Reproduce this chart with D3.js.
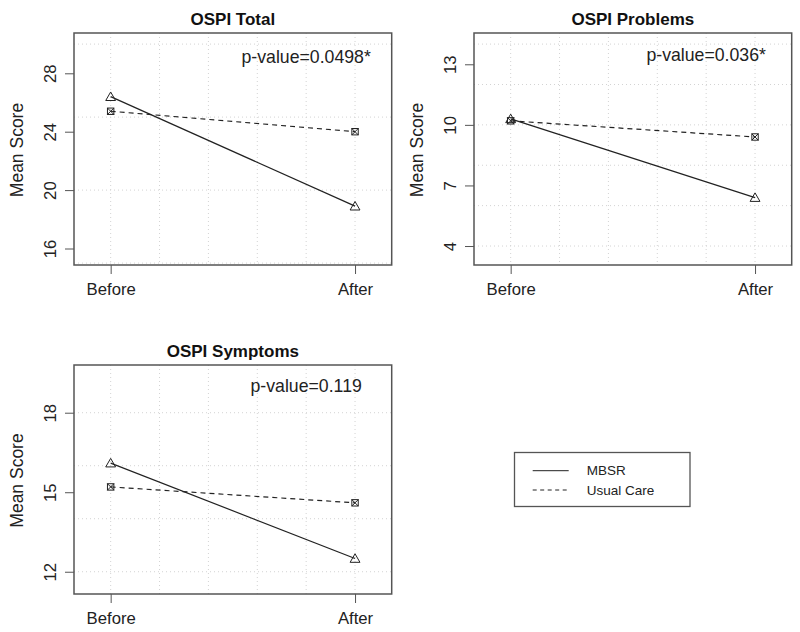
<!DOCTYPE html>
<html>
<head>
<meta charset="utf-8">
<script src="https://cdn.jsdelivr.net/npm/d3@7"></script>
<style>
  html, body { margin: 0; padding: 0; background: #fff; }
  svg { display: block; font-family: "Liberation Sans", Arial, sans-serif; }
</style>
</head>
<body>
<svg id="chart" width="800" height="632"></svg>
<script>
// ---- data ----
const timepoints = ["Before", "After"];
const seriesNames = ["MBSR", "Usual Care"];
const panelTitles = ["OSPI Total", "OSPI Problems", "OSPI Symptoms"];
const pValueLabels = ["p-value=0.0498*", "p-value=0.036*", "p-value=0.119"];

const totalMBSR = [26.4, 18.9];
const totalUsual = [25.4, 24.0];
const problemsMBSR = [10.3, 6.4];
const problemsUsual = [10.2, 9.4];
const symptomsMBSR = [16.1, 12.5];
const symptomsUsual = [15.2, 14.6];

const totalTicks = [16, 20, 24, 28];
const problemsTicks = [4, 7, 10, 13];
const symptomsTicks = [12, 15, 18];

const totalGrid = [15, 20, 25, 30];
const problemsGrid = [4, 6, 8, 10, 12, 14];
const symptomsGrid = [12, 14, 16, 18];

const xGrid = [1, 1.2, 1.4, 1.6, 1.8, 2];

// ---- layout ----
const panels = [
  { title: panelTitles[0], p: pValueLabels[0], mbsr: totalMBSR, usual: totalUsual,
    ticks: totalTicks, grid: totalGrid, domain: [14.87, 30.76], pY: 29.1,
    left: 74, right: 391.7, top: 33, bottom: 265 },
  { title: panelTitles[1], p: pValueLabels[1], mbsr: problemsMBSR, usual: problemsUsual,
    ticks: problemsTicks, grid: problemsGrid, domain: [3.06, 14.55], pY: 13.46,
    left: 474, right: 791.7, top: 33, bottom: 265 },
  { title: panelTitles[2], p: pValueLabels[2], mbsr: symptomsMBSR, usual: symptomsUsual,
    ticks: symptomsTicks, grid: symptomsGrid, domain: [11.16, 19.8], pY: 19.02,
    left: 74, right: 391.7, top: 365, bottom: 594 }
];

const svg = d3.select("#chart");
const boxColor = "#555";
const lineColor = "#222";
const gridColor = "#d3d3d3";

panels.forEach(pn => {
  const x = d3.scaleLinear().domain([0.85, 2.15]).range([pn.left, pn.right]);
  const y = d3.scaleLinear().domain(pn.domain).range([pn.bottom, pn.top]);
  const g = svg.append("g");

  // grid
  g.selectAll("line.vg").data(xGrid).enter().append("line")
    .attr("x1", d => x(d)).attr("x2", d => x(d))
    .attr("y1", pn.top).attr("y2", pn.bottom)
    .attr("stroke", gridColor).attr("stroke-dasharray", "1,3").attr("stroke-width", 1);
  g.selectAll("line.hg").data(pn.grid.filter(v => y(v) > pn.top && y(v) < pn.bottom)).enter().append("line")
    .attr("x1", pn.left).attr("x2", pn.right)
    .attr("y1", d => y(d)).attr("y2", d => y(d))
    .attr("stroke", gridColor).attr("stroke-dasharray", "1,3").attr("stroke-width", 1);

  // y axis
  const yAxis = d3.axisLeft(y).tickValues(pn.ticks).tickSize(9);
  const ya = g.append("g").attr("transform", `translate(${pn.left},0)`).call(yAxis);
  ya.select(".domain").remove();
  ya.selectAll(".tick line").attr("stroke", boxColor);
  ya.selectAll(".tick text")
    .attr("font-size", 16.7).attr("fill", "#222")
    .attr("font-family", "Liberation Sans, Arial, sans-serif")
    .attr("text-anchor", "middle").attr("x", null)
    .attr("transform", "translate(-24,0) rotate(-90)")
    .attr("dy", "0.35em");

  // x axis
  const xAxis = d3.axisBottom(x).tickValues([1, 2]).tickFormat((d, i) => timepoints[i]).tickSize(9).tickPadding(9);
  const xa = g.append("g").attr("transform", `translate(0,${pn.bottom})`).call(xAxis);
  xa.select(".domain").remove();
  xa.selectAll(".tick line").attr("stroke", boxColor);
  xa.selectAll(".tick text").attr("font-size", 16.7).attr("fill", "#222")
    .attr("font-family", "Liberation Sans, Arial, sans-serif");

  // box
  g.append("rect").attr("x", pn.left).attr("y", pn.top)
    .attr("width", pn.right - pn.left).attr("height", pn.bottom - pn.top)
    .attr("fill", "none").attr("stroke", boxColor).attr("stroke-width", 1.5);

  // y label
  g.append("text")
    .attr("transform", `translate(${pn.left - 51},${(pn.top + pn.bottom) / 2 + 1}) rotate(-90)`)
    .attr("text-anchor", "middle").attr("font-size", 17.5).attr("fill", "#222")
    .text("Mean Score");

  // title
  g.append("text").attr("x", (pn.left + pn.right) / 2).attr("y", pn.top - 8)
    .attr("text-anchor", "middle").attr("font-weight", "bold").attr("font-size", 17)
    .attr("fill", "#111").text(pn.title);

  // p-value
  g.append("text").attr("x", x(1.8)).attr("y", y(pn.pY)).attr("dy", "0.35em")
    .attr("text-anchor", "middle").attr("font-size", 17.7).attr("fill", "#222").text(pn.p);

  // lines
  const line = d3.line().x((d, i) => x(i + 1)).y(d => y(d));
  g.append("path").datum(pn.usual).attr("d", line).attr("fill", "none")
    .attr("stroke", lineColor).attr("stroke-width", 1.2).attr("stroke-dasharray", "5,4");
  g.append("path").datum(pn.mbsr).attr("d", line).attr("fill", "none")
    .attr("stroke", lineColor).attr("stroke-width", 1.2);

  // markers: triangles for MBSR
  const tri = d3.symbol().type(d3.symbolTriangle).size(42);
  g.selectAll("path.tri").data(pn.mbsr).enter().append("path")
    .attr("d", tri)
    .attr("transform", (d, i) => `translate(${x(i + 1)},${y(d) + 1})`)
    .attr("fill", "none").attr("stroke", lineColor).attr("stroke-width", 1);
  // boxed X for usual care
  const s = 3.2;
  pn.usual.forEach((d, i) => {
    const cx = x(i + 1), cy = y(d);
    g.append("rect").attr("x", cx - s).attr("y", cy - s).attr("width", 2 * s).attr("height", 2 * s)
      .attr("fill", "none").attr("stroke", lineColor).attr("stroke-width", 1);
    g.append("path").attr("d", `M${cx - s},${cy - s}L${cx + s},${cy + s}M${cx + s},${cy - s}L${cx - s},${cy + s}`)
      .attr("stroke", lineColor).attr("stroke-width", 1);
  });
});

// legend
const leg = svg.append("g");
leg.append("rect").attr("x", 514.5).attr("y", 452.5).attr("width", 175.5).attr("height", 54)
  .attr("fill", "none").attr("stroke", boxColor).attr("stroke-width", 1.3);
const legY = d3.scalePoint().domain(seriesNames).range([470.7, 490]);
seriesNames.forEach((nm, i) => {
  leg.append("line").attr("x1", 532.7).attr("x2", 568.7).attr("y1", legY(nm)).attr("y2", legY(nm))
    .attr("stroke", lineColor).attr("stroke-width", 1)
    .attr("stroke-dasharray", i === 1 ? "4,3.5" : null);
  leg.append("text").attr("x", 586.7).attr("y", legY(nm)).attr("dy", "0.35em")
    .attr("font-size", 13.5).attr("fill", "#222").text(nm);
});
</script>
</body>
</html>
